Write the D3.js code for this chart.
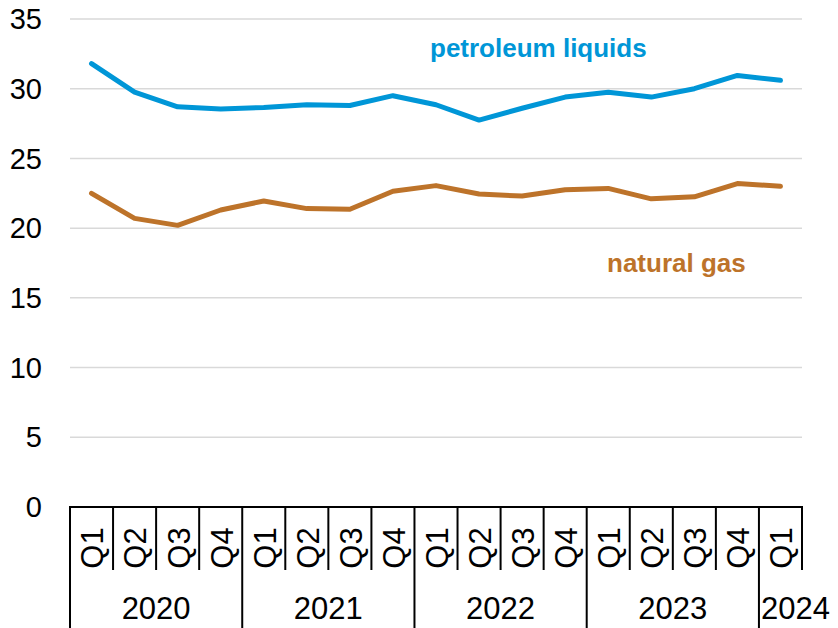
<!DOCTYPE html>
<html>
<head>
<meta charset="utf-8">
<script src="https://cdn.jsdelivr.net/npm/d3@7"></script>
<style>
  body { margin: 0; background: #fff; }
  svg { display: block; font-family: Arial, "Liberation Sans", sans-serif; }
</style>
</head>
<body>
<div id="graph"></div>
<script>
var years = ['2020', '2021', '2022', '2023', '2024']
var quarters = ['Q1', 'Q2', 'Q3', 'Q4', 'Q1', 'Q2', 'Q3', 'Q4', 'Q1', 'Q2', 'Q3', 'Q4', 'Q1', 'Q2', 'Q3', 'Q4', 'Q1']
var quarterYear = [0, 0, 0, 0, 1, 1, 1, 1, 2, 2, 2, 2, 3, 3, 3, 3, 4]
var petroleum = [31.8, 29.75, 28.7, 28.55, 28.65, 28.85, 28.8, 29.5, 28.85, 27.75, 28.6, 29.4, 29.75, 29.4, 30.0, 30.95, 30.6]
var gas = [22.5, 20.7, 20.2, 21.3, 21.95, 21.4, 21.35, 22.65, 23.05, 22.45, 22.3, 22.75, 22.85, 22.1, 22.25, 23.2, 23.0]
var yTicks = [0, 5, 10, 15, 20, 25, 30, 35]

var width = 838, height = 628
var m = {left: 70, right: 802, top: 19, bottom: 507}

var svg = d3.select('#graph').append('svg')
  .attr('width', width).attr('height', height)

var idx = d3.range(quarters.length)
var x = d3.scaleBand().domain(idx).range([m.left, m.right])
var y = d3.scaleLinear().domain([0, 35]).range([m.bottom, m.top])

// gridlines + y labels
svg.append('g').selectAll('line').data(yTicks.filter(d => d > 0)).join('line')
  .attr('x1', m.left).attr('x2', m.right)
  .attr('y1', d => y(d)).attr('y2', d => y(d))
  .attr('stroke', '#d9d9d9').attr('stroke-width', 1.5)

svg.append('g').selectAll('text').data(yTicks).join('text')
  .attr('x', 42).attr('y', d => y(d))
  .attr('text-anchor', 'end').attr('dy', '0.35em')
  .attr('font-size', 29).attr('fill', '#000')
  .text(d => d)

// category axis
var ax = svg.append('g').attr('stroke', '#000').attr('stroke-width', 2)
ax.append('line').attr('x1', m.left - 1).attr('x2', m.right + 1).attr('y1', m.bottom).attr('y2', m.bottom)

var edges = d3.range(quarters.length + 1)
ax.selectAll('.tick').data(edges).join('line')
  .attr('x1', i => i < quarters.length ? x(i) : m.right)
  .attr('x2', i => i < quarters.length ? x(i) : m.right)
  .attr('y1', m.bottom)
  .attr('y2', i => (i < quarters.length && (i == 0 || quarterYear[i] != quarterYear[i - 1])) ? height : 570)

svg.append('g').selectAll('text').data(idx).join('text')
  .attr('transform', i => `translate(${x(i) + x.bandwidth()/2 + 1},548) rotate(-90)`)
  .attr('text-anchor', 'middle').attr('dy', '0.35em')
  .attr('font-size', 31)
  .text(i => quarters[i])

svg.append('g').selectAll('text').data(years).join('text')
  .each(function(yr, j) {
    var ii = idx.filter(i => quarterYear[i] == j)
    var x0 = x(ii[0]), x1 = x(ii[ii.length - 1]) + x.bandwidth()
    var sel = d3.select(this).attr('y', 619).attr('font-size', 31).text(yr)
    if (ii.length < 2) sel.attr('x', x0 + 2).attr('text-anchor', 'start')
    else sel.attr('x', (x0 + x1)/2).attr('text-anchor', 'middle')
  })

// lines
var line = d3.line().x((d, i) => x(i) + x.bandwidth()/2).y(d => y(d))

svg.append('path').datum(gas)
  .attr('d', line).attr('fill', 'none')
  .attr('stroke', '#bd732a').attr('stroke-width', 5)
  .attr('stroke-linecap', 'round').attr('stroke-linejoin', 'round')

svg.append('path').datum(petroleum)
  .attr('d', line).attr('fill', 'none')
  .attr('stroke', '#0096d7').attr('stroke-width', 5)
  .attr('stroke-linecap', 'round').attr('stroke-linejoin', 'round')

svg.append('text').attr('x', 430).attr('y', 57)
  .attr('font-size', 26).attr('font-weight', 'bold').attr('fill', '#0096d7')
  .text('petroleum liquids')

svg.append('text').attr('x', 607).attr('y', 272)
  .attr('font-size', 26).attr('font-weight', 'bold').attr('fill', '#bd732a')
  .text('natural gas')
</script>
</body>
</html>
